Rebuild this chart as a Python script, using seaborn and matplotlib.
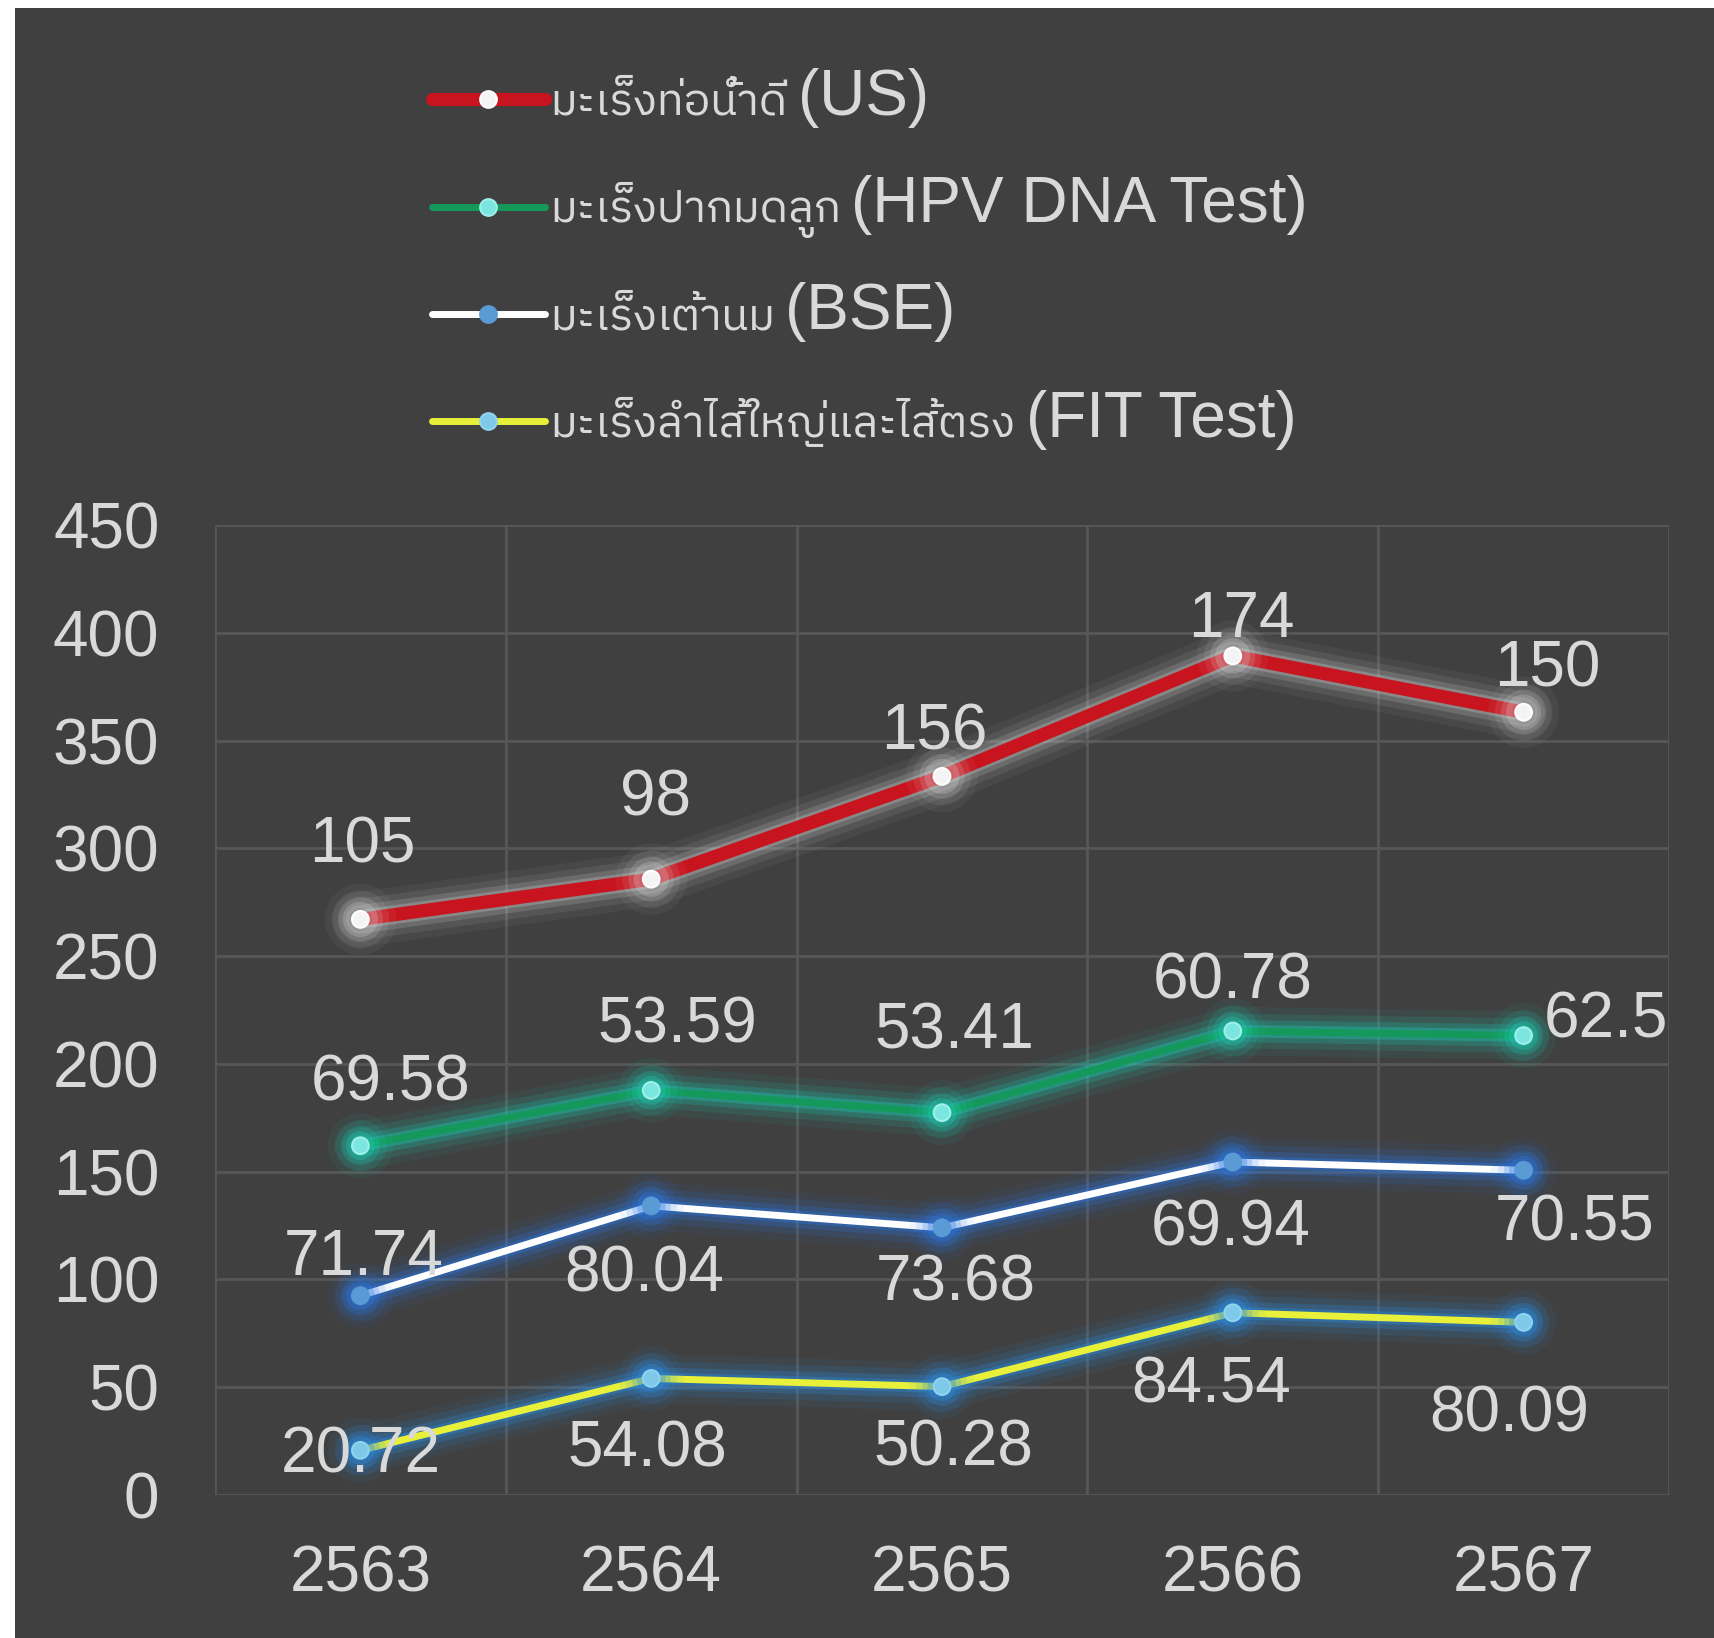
import numpy as np
import pandas as pd
import matplotlib
matplotlib.use("Agg")
import matplotlib.pyplot as plt
import matplotlib.patheffects as pe
from matplotlib.patches import Rectangle
from matplotlib import font_manager
import seaborn as sns

# ---------------- data ----------------
years = ["2563", "2564", "2565", "2566", "2567"]
us_vals = [105, 98, 156, 174, 150]
hpv_vals = [69.58, 53.59, 53.41, 60.78, 62.5]
bse_vals = [71.74, 80.04, 73.68, 69.94, 70.55]
fit_vals = [20.72, 54.08, 50.28, 84.54, 80.09]
series_labels = [
    "มะเร็งท่อน้ำดี (US)",
    "มะเร็งปากมดลูก (HPV DNA Test)",
    "มะเร็งเต้านม (BSE)",
    "มะเร็งลำไส้ใหญ่และไส้ตรง (FIT Test)",
]
y_ticks = [0, 50, 100, 150, 200, 250, 300, 350, 400, 450]

# ---------------- find a Thai-capable font ----------------
thai_font = None
try:
    from fontTools.ttLib import TTFont
    cands = []
    for f in font_manager.fontManager.ttflist:
        try:
            tt = TTFont(f.fname, fontNumber=0, lazy=True)
            cmap = tt.getBestCmap()
            if cmap and 0x0E21 in cmap and 0x0E40 in cmap:
                cands.append(f.name)
        except Exception:
            pass
    pref = [c for c in cands if "Thai" in c]
    if pref:
        thai_font = pref[0]
    elif cands:
        thai_font = cands[0]
except Exception:
    thai_font = None

latin = "Liberation Sans"
fam = [latin] + ([thai_font] if thai_font else []) + ["DejaVu Sans"]

sns.set_theme(style="dark")
plt.rcParams["font.family"] = fam

W, H = 1715, 1638
fig = plt.figure(figsize=(W / 100, H / 100), dpi=100, facecolor="white")
bg = Rectangle((15 / W, 0), 1 - 15 / W, 1 - 8 / H, transform=fig.transFigure,
               facecolor="#404040", edgecolor="none", zorder=-10)
fig.patches.append(bg)

ax = fig.add_axes([215 / W, 1 - 1495 / H, (1669 - 215) / W, (1495 - 525) / H])
ax.set_facecolor("none")
ax.patch.set_alpha(0)

# stacked values
base = np.zeros(len(years))
stack = {}
order = [("fit", fit_vals), ("bse", bse_vals), ("hpv", hpv_vals), ("us", us_vals)]
for key, vals in order:
    base = base + np.array(vals, dtype=float)
    stack[key] = base.copy()

xpos = np.arange(len(years))
styles = {
    "us":  dict(color="#c8141e", lw=9.5, mfc="#f4f4f4", mec="#ffffff", glow="#e0e0e0", ms=12, ga=1.0),
    "hpv": dict(color="#15995a", lw=5.0, mfc="#7ae6df", mec="#9ff0ea", glow="#19d2b8", ms=12, ga=1.3),
    "bse": dict(color="#ffffff", lw=5.0, mfc="#5b9bd5", mec="#5b9bd5", glow="#2a78e6", ms=12, ga=1.4),
    "fit": dict(color="#e8f03a", lw=5.0, mfc="#7ec8e8", mec="#8fd3ef", glow="#2a8ee6", ms=12, ga=1.4),
}
label_map = {"us": series_labels[0], "hpv": series_labels[1], "bse": series_labels[2], "fit": series_labels[3]}
raw_map = {"us": us_vals, "hpv": hpv_vals, "bse": bse_vals, "fit": fit_vals}

# label offsets (pixels) for data labels
label_offsets = {
    "us":  [(2, 74), (4, 81), (-8, 44), (9, 36), (24, 43)],
    "hpv": [(30, 62), (26, 65), (12, 81), (0, 49), (82, 15)],
    "bse": [(3, 38), (-7, -69), (14, -56), (-2, -66), (51, -53)],
    "fit": [(0, -5), (-4, -71), (11, -62), (-22, -73), (-14, -92)],
}

handles = {}
for key in ["fit", "bse", "hpv", "us"]:
    st = styles[key]
    df = pd.DataFrame({"x": xpos, "y": stack[key]})
    sns.lineplot(data=df, x="x", y="y", ax=ax, color=st["color"], linewidth=st["lw"],
                 marker="o", markersize=st["ms"], markerfacecolor=st["mfc"],
                 markeredgecolor=st["mec"], markeredgewidth=1.5, label=label_map[key],
                 legend=False, zorder=3)
    line = ax.get_lines()[-1]
    g = st["glow"]
    a = st["ga"]
    line.set_path_effects([
        pe.Stroke(linewidth=st["lw"] + 30, foreground=g, alpha=0.05 * a),
        pe.Stroke(linewidth=st["lw"] + 20, foreground=g, alpha=0.09 * a),
        pe.Stroke(linewidth=st["lw"] + 11, foreground=g, alpha=0.16 * a),
        pe.Stroke(linewidth=st["lw"] + 4, foreground=g, alpha=0.25 * a),
        pe.Normal(),
    ])
    handles[key] = line
    for i, v in enumerate(raw_map[key]):
        dx, dy = label_offsets[key][i]
        txt = f"{v:g}"
        ax.annotate(txt, (xpos[i], stack[key][i]), xytext=(dx, dy), textcoords="offset pixels",
                    ha="center", va="center", fontsize=46, color="#d9d9d9", zorder=5,
                    family=latin)

ax.set_xlim(-0.5, len(years) - 0.5)
ax.set_ylim(0, 450)
ax.set_yticks(y_ticks)
ax.set_yticklabels([str(t) for t in y_ticks])
ax.set_xticks(xpos)
ax.set_xticklabels(years)
ax.set_xticks(np.arange(-0.5, len(years), 1.0), minor=True)
ax.grid(False)
ax.grid(True, which="minor", axis="x", color="#575757", linewidth=2.0)
ax.grid(True, which="major", axis="y", color="#575757", linewidth=2.0)
ax.set_axisbelow(True)
ax.tick_params(axis="y", which="both", length=0, pad=40, labelsize=46, labelcolor="#d9d9d9")
ax.tick_params(axis="x", which="both", length=0, pad=36, labelsize=46, labelcolor="#d9d9d9")
ax.set_xlabel("")
ax.set_ylabel("")
for s in ax.spines.values():
    s.set_visible(False)

# legend: Thai part (smaller) in legend, Latin part appended as text
thai_parts = [s.split(" (")[0] for s in series_labels]
latin_parts = ["(" + s.split(" (", 1)[1] for s in series_labels]

leg_handles = [handles["us"], handles["hpv"], handles["bse"], handles["fit"]]
leg = ax.legend(leg_handles, thai_parts, loc="upper left",
                bbox_to_anchor=(414 / W, 1 - 65 / H), bbox_transform=fig.transFigure,
                frameon=False, fontsize=32, handlelength=2.55, handletextpad=0.12,
                labelspacing=1.32, borderaxespad=0, numpoints=1)
for t in leg.get_texts():
    t.set_color("#d9d9d9")
for lh in leg.legend_handles:
    lh.set_path_effects([])

fig.canvas.draw()
renderer = fig.canvas.get_renderer()
for t, lat in zip(leg.get_texts(), latin_parts):
    bb = t.get_window_extent(renderer)
    bx, by = t.get_transform().transform(t.get_position())
    fig.text((bb.x1 + 10) / W, by / H, lat, ha="left", va="baseline",
             fontsize=46, color="#d9d9d9", family=latin)

fig.savefig("out.png", dpi=100, facecolor=fig.get_facecolor())
